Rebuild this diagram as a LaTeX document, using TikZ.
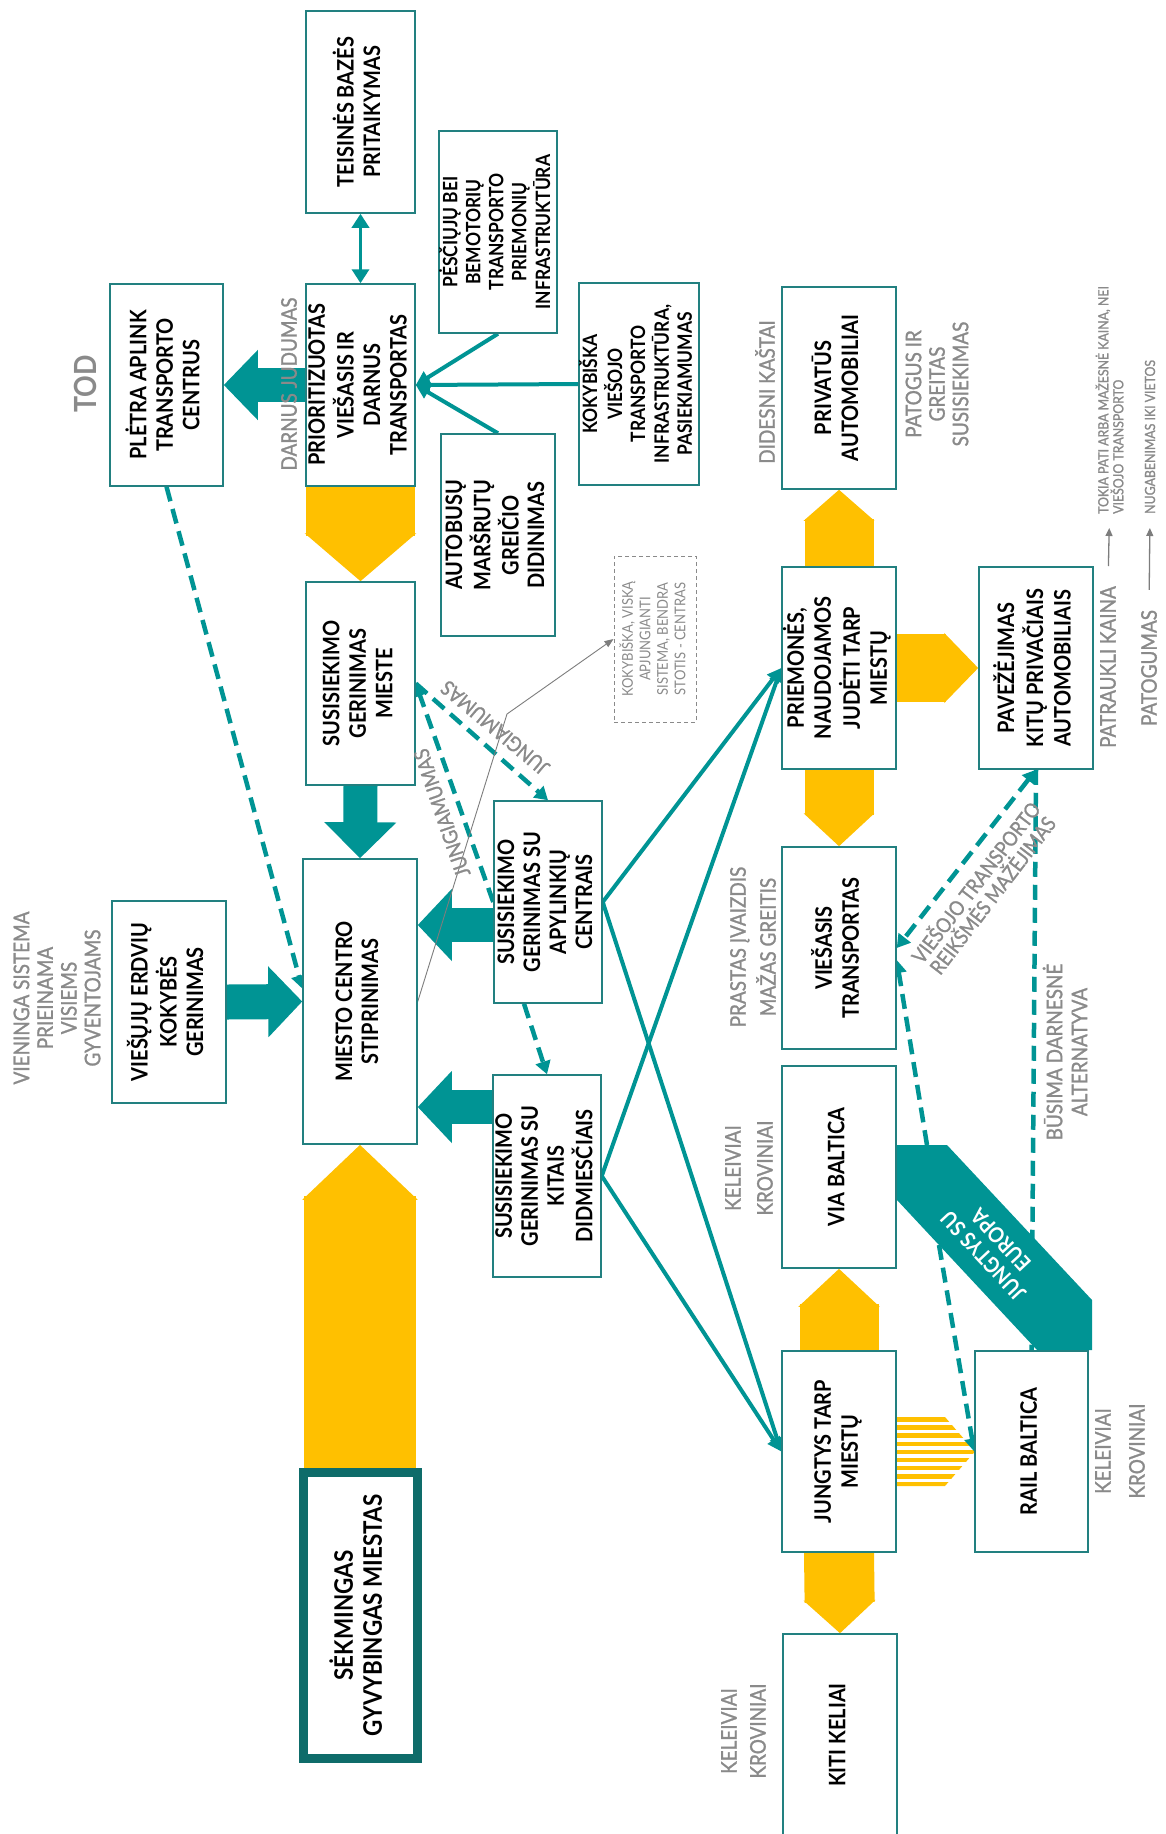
\documentclass[tikz,border=0pt]{standalone}
\usepackage{fontspec}
\setmainfont{Lato}[FakeStretch=0.88]
\newfontfamily\lblf{Lato}[FakeStretch=0.88, FakeBold=1.2]
\usepackage{graphicx}
\usetikzlibrary{arrows.meta,calc}
\pgfdeclarelayer{back}
\pgfsetlayers{back,main}

\definecolor{tealA}{RGB}{0,148,148}
\definecolor{boxline}{RGB}{34,128,128}
\definecolor{deepteal}{RGB}{14,108,106}
\definecolor{sun}{RGB}{255,192,0}
\definecolor{lbl}{RGB}{138,138,138}
\definecolor{thingrey}{RGB}{125,125,125}

% rotated multi-line text for the upright boxes
\newcommand{\rtxt}[3]{\rotatebox{90}{\fontsize{#1}{#2}\selectfont\begin{tabular}{@{}c@{}}#3\end{tabular}}}

\tikzset{
  box/.style={draw=boxline, line width=1.5pt, fill=white, inner sep=0pt, font=\bfseries,
              minimum width=114pt, minimum height=202pt},
  greylbl/.style={text=lbl, rotate=90, align=center, inner sep=0pt, font=\lblf\fontsize{21.5}{24}\selectfont},
  tline/.style={draw=tealA, line width=4pt, -{Triangle[length=14pt,width=14pt]}},
  dline/.style={draw=tealA, line width=4.5pt, dash pattern=on 15pt off 8pt, -{Triangle[length=13pt,width=15pt]}},
  legarrow/.style={draw=thingrey, line width=1.3pt, -{Triangle[length=8pt,width=7pt]}},
}

\begin{document}
\begin{tikzpicture}[x=1pt, y=-1pt]
\useasboundingbox (0,0) rectangle (1166,1834);

% ---------- boxes ----------
\node[box, minimum width=109pt] (teisines) at (360.5,112) {\rtxt{22.7}{26.5}{TEISINĖS BAZĖS\\PRITAIKYMAS}};
\node[box, minimum width=113pt] (pletra) at (166.5,385) {\rtxt{22.7}{26.5}{PLĖTRA APLINK\\TRANSPORTO\\CENTRUS}};
\node[box, minimum width=109pt] (prior) at (360.5,385) {\rtxt{22.7}{26.5}{PRIORITIZUOTAS\\VIEŠASIS IR\\DARNUS\\TRANSPORTAS}};
\node[box] (pes) at (498,232) {\rtxt{19.8}{23}{PĖSČIŲJŲ BEI\\BEMOTORIŲ\\TRANSPORTO\\PRIEMONIŲ\\INFRASTRUKTŪRA}};
\node[box] (kok) at (639,384) {\rtxt{19.8}{23}{KOKYBIŠKA\\VIEŠOJO\\TRANSPORTO\\INFRASTRUKTŪRA,\\PASIEKIAMUMAS}};
\node[box] (auto) at (498,535) {\rtxt{22.7}{25.5}{AUTOBUSŲ\\MARŠRUTŲ\\GREIČIO\\DIDINIMAS}};
\node[box, minimum width=109pt, minimum height=203pt] (mieste) at (360.5,683.5) {\rtxt{22.7}{26.5}{SUSISIEKIMO\\GERINIMAS\\MIESTE}};
\node[box, minimum height=285pt] (miesto) at (360,1001.5) {\rtxt{22.7}{26}{MIESTO CENTRO\\STIPRINIMAS}};
\node[box] (viesuju) at (169,1002) {\rtxt{22.7}{26.5}{VIEŠŲJŲ ERDVIŲ\\KOKYBĖS\\GERINIMAS}};
\node[box, minimum width=108pt] (apy) at (548,902) {\rtxt{22.7}{26}{SUSISIEKIMO\\GERINIMAS SU\\APYLINKIŲ\\CENTRAIS}};
\node[box, minimum width=108pt] (didm) at (547,1176) {\rtxt{22.7}{26}{SUSISIEKIMO\\GERINIMAS SU\\KITAIS\\DIDMIESČIAIS}};
\node[draw=lbl, line width=1pt, dash pattern=on 4pt off 3pt, fill=white, inner sep=0pt, text=lbl,
      minimum width=82pt, minimum height=166pt] (dbox) at (655,639)
      {\rtxt{14.8}{17.5}{KOKYBIŠKA, VISKĄ\\APJUNGIANTI\\SISTEMA, BENDRA\\STOTIS - CENTRAS}};
\node[box] (privat) at (839,388) {\rtxt{22.7}{27}{PRIVATŪS\\AUTOMOBILIAI}};
\node[box] (priem) at (839,668) {\rtxt{22.7}{27}{PRIEMONĖS,\\NAUDOJAMOS\\JUDĖTI TARP\\MIESTŲ}};
\node[box] (pav) at (1036,668) {\rtxt{22.7}{27.5}{PAVEŽĖJIMAS\\KITŲ PRIVAČIAIS\\AUTOMOBILIAIS}};
\node[box] (vies) at (839,948) {\rtxt{22.7}{27}{VIEŠASIS\\TRANSPORTAS}};
\node[box] (via) at (839,1167) {\rtxt{22.7}{27}{VIA BALTICA}};
\node[box, minimum height=201pt] (jung) at (839,1451.5) {\rtxt{22.7}{27}{JUNGTYS TARP\\MIESTŲ}};
\node[box, minimum width=113pt, minimum height=201pt] (rail) at (1031.5,1451.5) {\rtxt{22.7}{27}{RAIL BALTICA}};
\node[box] (kiti) at (840,1735) {\rtxt{22.7}{27}{KITI KELIAI}};
\node[draw=deepteal, line width=9pt, fill=white, inner sep=0pt, font=\bfseries,
      minimum width=114pt, minimum height=286pt] (sek) at (360,1615.5)
      {\rtxt{25.5}{29}{SĖKMINGAS\\GYVYBINGAS MIESTAS}};

% ---------- band: links with Europe ----------
\coordinate (eu1) at (897,1145);
\coordinate (eu2) at (947,1145);
\coordinate (eu3) at (1092,1300);
\coordinate (eu4) at (1092,1350);
\coordinate (eu5) at (1037,1350);
\coordinate (eu6) at (897,1200);
\fill[tealA] (eu1) -- (eu2) -- (eu3) -- (eu4) -- (eu5) -- (eu6) -- cycle;
\node[text=white, rotate=133, align=center, inner sep=0pt, font=\bfseries\fontsize{21.5}{24}\selectfont]
      (europa) at (992,1248) {JUNGTYS SU\\EUROPA};

\coordinate (bend) at (507,714);

% ---------- grey labels ----------
\node[greylbl, font=\bfseries\fontsize{30.5}{32}\selectfont] (tod) at (85,384) {TOD};
\node[greylbl] (darnus) at (289,384) {DARNUS JUDUMAS};
\node[greylbl, font=\lblf\fontsize{21.5}{23.7}\selectfont] (vieninga) at (57,998) {VIENINGA SISTEMA\\PRIEINAMA\\VISIEMS\\GYVENTOJAMS};
\node[greylbl] (didesni) at (765,392) {DIDESNI KAŠTAI};
\node[greylbl, font=\lblf\fontsize{21.5}{23.5}\selectfont] (patogus) at (937,384) {PATOGUS IR\\GREITAS\\SUSISIEKIMAS};
\node[greylbl, font=\lblf\fontsize{21.5}{30}\selectfont] (prastas) at (753,947) {PRASTAS ĮVAIZDIS\\MAŽAS GREITIS};
\node[greylbl, font=\lblf\fontsize{21.5}{32}\selectfont] (kelvia) at (749,1168) {KELEIVIAI\\KROVINIAI};
\node[greylbl, font=\lblf\fontsize{21.5}{25}\selectfont] (busima) at (1065,1052) {BŪSIMA DARNESNĖ\\ALTERNATYVA};
\node[greylbl, font=\lblf\fontsize{21.5}{34}\selectfont] (kelrail) at (1120,1451) {KELEIVIAI\\KROVINIAI};
\node[greylbl, font=\lblf\fontsize{21.5}{29}\selectfont] (kelkiti) at (743.5,1731) {KELEIVIAI\\KROVINIAI};
\node[greylbl] (patr) at (1108,667) {PATRAUKLI KAINA};
\node[greylbl] (patog) at (1149,668) {PATOGUMAS};
\node[greylbl, align=left, anchor=west, font=\lblf\fontsize{14}{15}\selectfont] (tokia) at (1109.5,514)
      {TOKIA PATI ARBA MAŽESNĖ KAINA, NEI\\VIEŠOJO TRANSPORTO};
\node[greylbl, anchor=west, font=\lblf\fontsize{14}{15}\selectfont] (nug) at (1150,514) {NUGABENIMAS IKI VIETOS};
\node[text=lbl, rotate=140, inner sep=0pt, font=\lblf\fontsize{20.5}{22}\selectfont] (jg1) at (495,728) {JUNGIAMUMAS};
\node[text=lbl, rotate=109, inner sep=0pt, font=\lblf\fontsize{20.5}{22}\selectfont] (jg2) at (442,813) {JUNGIAMUMAS};
\node[text=lbl, rotate=52.5, align=center, inner sep=0pt, font=\lblf\fontsize{20.5}{21}\selectfont] (mazej) at (983,888)
      {VIEŠOJO TRANSPORTO\\REIKŠMĖS MAŽĖJIMAS};

% ---------- arrows behind the boxes ----------
\begin{pgfonlayer}{back}
\fill[white] (0,0) rectangle (1166,1834);

% yellow block arrows
\draw[draw=sun, line width=109pt, -{Triangle[width=109pt,length=48pt]}] (prior.south) -- (mieste.north);
\draw[draw=sun, line width=112pt, -{Triangle[width=112pt,length=55pt]}] (sek.north) -- (miesto.south);
\draw[draw=sun, line width=69pt, -{Triangle[width=69pt,length=31pt]}] (priem.north) -- (privat.south);
\draw[draw=sun, line width=68pt, -{Triangle[width=68pt,length=34pt]}] (priem.east) -- (pav.west);
\draw[draw=sun, line width=69pt, -{Triangle[width=69pt,length=33pt]}] (priem.south) -- (vies.north);
\draw[draw=sun, line width=79pt, -{Triangle[width=79pt,length=38pt]}] (jung.north) -- (via.south);
\draw[draw=sun, line width=70pt, -{Triangle[width=70pt,length=33pt]}] (jung.south) -- (kiti.north);
% striped arrow towards Rail Baltica
\begin{scope}
  \clip (896,1417) -- (945,1417) -- (975,1451.5) -- (945,1486) -- (896,1486) -- cycle;
  \foreach \k in {0,...,8} \draw[sun, line width=4.6pt] (890,1419.5+8.1*\k) -- (985,1419.5+8.1*\k);
\end{scope}

% teal block arrows
\draw[draw=tealA, line width=34pt, -{Triangle[width=68pt,length=34pt]}] (prior.west) -- (pletra.east);
\draw[draw=tealA, line width=34pt, -{Triangle[width=70pt,length=36pt]}] (mieste.south) -- (miesto.north);
\draw[draw=tealA, line width=35pt, -{Triangle[width=69pt,length=34pt]}] (viesuju.east) -- (miesto.west);
\draw[draw=tealA, line width=34pt, -{Triangle[width=70pt,length=34pt]}] ($(apy.west)+(0,23)$) -- ($(miesto.east |- apy.west)+(0,23)$);
\draw[draw=tealA, line width=34pt, -{Triangle[width=70pt,length=34pt]}] ($(didm.west)+(0,-69)$) -- ($(miesto.east |- didm.west)+(0,-69)$);

% solid teal connectors
\draw[draw=tealA, line width=3.5pt, {Triangle[length=14pt,width=17pt]}-{Triangle[length=14pt,width=17pt]}] (teisines.south) -- (prior.north);
\draw[tline] (pes.south) -- (prior.east);
\draw[tline] (kok.west) -- (prior.east);
\draw[tline] (auto.north) -- (prior.east);
\draw[tline] (apy.east) -- (priem.west);
\draw[tline] (apy.east) -- (jung.west);
\draw[tline] (didm.east) -- (priem.west);
\draw[tline] (didm.east) -- (jung.west);

% dashed teal connectors
\draw[dline] (pletra.south) -- ($(miesto.west)+(0,-13)$);
\draw[dline] (mieste.east) -- (apy.north);
\draw[dline] (apy.west) -- (mieste.east);
\draw[dline] ($(apy.south)+(-24,0)$) -- (didm.north);
\draw[dline, {Triangle[length=13pt,width=15pt]}-{Triangle[length=13pt,width=15pt]}] (pav.south) -- (vies.east);
\draw[dline, -] (pav.south) -- (rail.north);
\draw[dline] ($(eu1)!0.6!(eu2)$) -- ($(vies.east)+(0,12)$);
\draw[dline] ($(eu6)!0.3!(eu5)$) -- (rail.west);

% thin grey pointer to the note
\draw[draw=thingrey, line width=0.9pt, -{Triangle[length=9pt,width=7pt]}] (miesto.east) -- (bend) -- (dbox.west);

% legend arrows
\draw[legarrow, shorten <=20pt, shorten >=14pt] (patr.east) -- (tokia.west);
\draw[legarrow, shorten <=20pt, shorten >=14pt] (patog.east) -- (nug.west);
\end{pgfonlayer}
\end{tikzpicture}
\end{document}
